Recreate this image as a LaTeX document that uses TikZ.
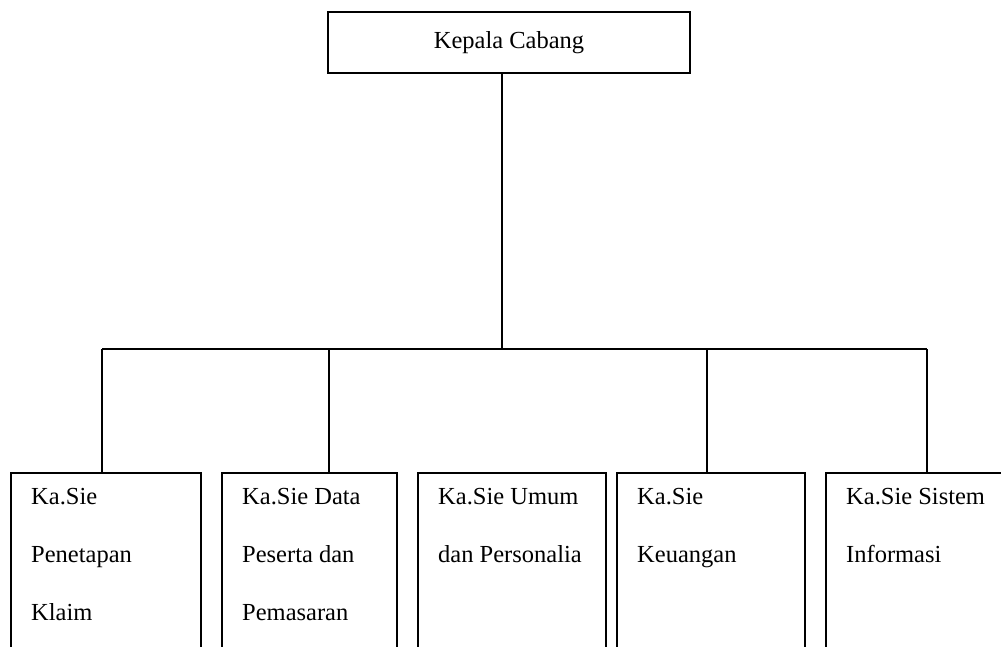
\documentclass[tikz,border=0pt]{standalone}
\usepackage{fontspec}
\setmainfont{Liberation Serif}
\usetikzlibrary{positioning}
\tikzset{
head_box/.style={rectangle, draw, line width=1.8pt, minimum width=362pt, minimum height=61pt, inner sep=0pt, outer sep=0pt, font=\fontsize{24.5}{29}\selectfont},
unit_box/.style={rectangle, draw, line width=1.8pt, minimum width=188pt, minimum height=200pt, inner sep=0pt, outer sep=0pt},
unit_text/.style={anchor=north west, align=left, inner sep=0pt, xshift=20pt, yshift=-15.5pt, font=\fontsize{24.5}{58}\selectfont},
conn/.style={line width=1.8pt}
}

\begin{document}
\begin{tikzpicture}[x=1pt, y=-1pt]
    \useasboundingbox (0,0) rectangle (1001,646);
    \clip (0,0) rectangle (1001,646);
    \node[head_box] (head) at (509,42.5) {Kepala Cabang};
    \node[unit_box, anchor=north west, minimum width=190pt, label={[unit_text]north west:{Ka.Sie\\Penetapan\\Klaim}}] (klaim) at (11,473) {};
    \node[unit_box, minimum width=175pt, right=21pt of klaim.north east, anchor=north west, label={[unit_text]north west:{Ka.Sie Data\\Peserta dan\\Pemasaran}}] (data) {};
    \node[unit_box, right=21pt of data.north east, anchor=north west, label={[unit_text]north west:{Ka.Sie Umum\\dan Personalia}}] (umum) {};
    \node[unit_box, right=11pt of umum.north east, anchor=north west, label={[unit_text]north west:{Ka.Sie\\Keuangan}}] (uang) {};
    \node[unit_box, right=21pt of uang.north east, anchor=north west, label={[unit_text]north west:{Ka.Sie Sistem\\Informasi}}] (sistem) {};
    % the bar and its drops
    \coordinate (top_drop) at (502,73);
    \coordinate (bar_left) at (102,349);
    \coordinate (bar_right) at (927,349);
    \coordinate (drop_data) at (329,349);
    \coordinate (drop_uang) at (707,349);
    \draw[conn] (top_drop) -- (top_drop |- bar_left);
    \draw[conn] (bar_left) -- (bar_right);
    \draw[conn] (bar_left) -- (bar_left |- klaim.north);
    \draw[conn] (drop_data) -- (drop_data |- data.north);
    \draw[conn] (drop_uang) -- (drop_uang |- uang.north);
    \draw[conn] (bar_right) -- (bar_right |- sistem.north);
\end{tikzpicture}
\end{document}
